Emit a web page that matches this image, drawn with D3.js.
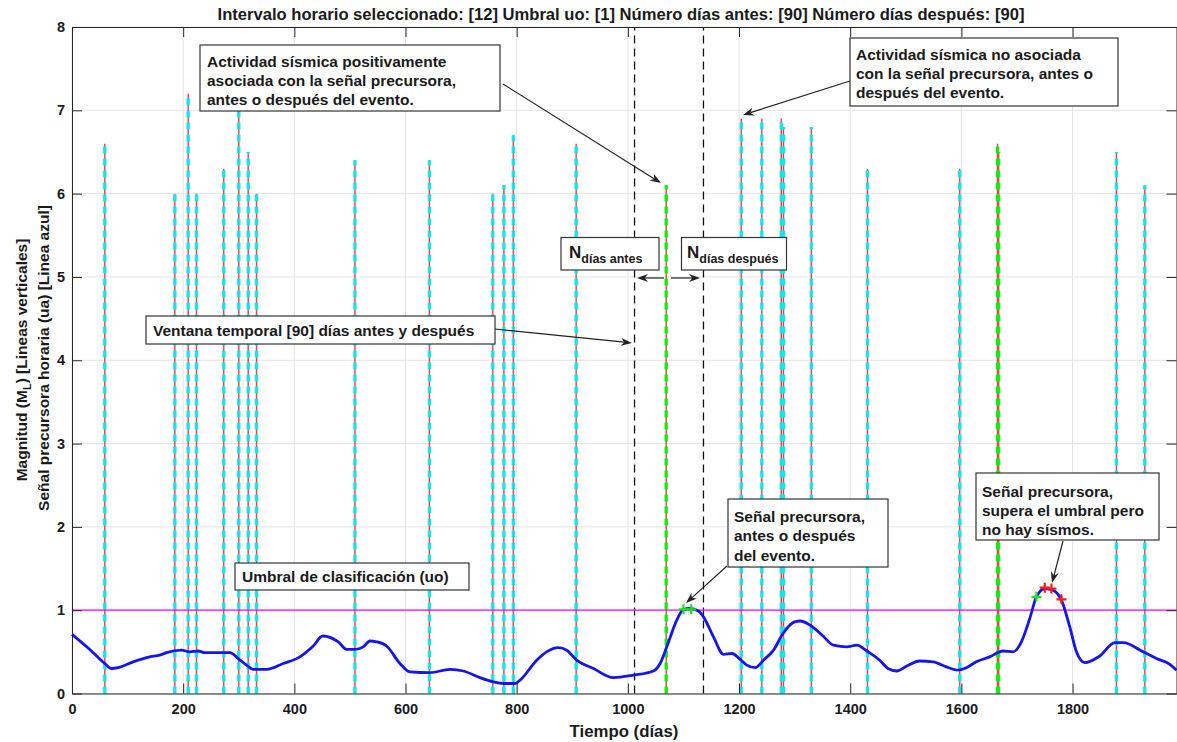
<!DOCTYPE html>
<html>
<head>
<meta charset="utf-8">
<script src="https://cdn.jsdelivr.net/npm/d3@7"></script>
<style>
  html, body { margin: 0; padding: 0; background: #fff; }
  svg { display: block; }
  text { font-family: "Liberation Sans", Arial, Helvetica, sans-serif; font-weight: bold; fill: #1a1a1a; }
</style>
</head>
<body>
<svg id="chart" width="1177" height="742"></svg>
<script>
// ---------------- DATA ----------------
const titleText = "Intervalo horario seleccionado: [12] Umbral uo: [1] Número días antes: [90] Número días después: [90]";
const xTicks = [0, 200, 400, 600, 800, 1000, 1200, 1400, 1600, 1800];
const yTicks = [0, 1, 2, 3, 4, 5, 6, 7, 8];
const xMax = 1987;

// Seismic events (vertical lines): day, magnitude, associated with precursor (1) or not (0)
const eventDays  = [59, 185, 209, 224, 273, 300, 317, 332, 509, 643, 757, 777, 794, 907, 1069, 1204, 1241, 1276, 1280, 1330, 1431, 1597, 1665, 1667, 1879, 1930];
const eventMags  = [6.6, 6.0, 7.2, 6.0, 6.3, 7.0, 6.5, 6.0, 6.4, 6.4, 6.0, 6.1, 6.7, 6.6, 6.1, 6.9, 6.9, 6.9, 6.8, 6.8, 6.3, 6.3, 6.6, 6.5, 6.5, 6.1];
const eventAssoc = [0, 0, 0, 0, 0, 0, 0, 0, 0, 0, 0, 0, 0, 0, 1, 0, 0, 0, 0, 0, 0, 0, 1, 1, 0, 0];

// Hourly precursor signal (blue line)
const signalDays = [0,30,59,71,83,110,140,158,170,197,212,227,239,284,299,314,326,350,380,410,434,451,479,494,509,524,536,548,566,590,608,644,680,704,734,758,776,797,806,836,854,875,890,908,938,974,1010,1046,1058,1070,1088,1100,1112,1127,1136,1154,1172,1187,1202,1214,1229,1244,1262,1279,1300,1310,1328,1351,1370,1394,1412,1430,1453,1468,1484,1502,1525,1549,1573,1594,1609,1627,1651,1675,1693,1708,1723,1735,1750,1765,1780,1795,1807,1822,1849,1876,1891,1927,1951,1975,1987];
const signalValues = [0.71,0.54,0.36,0.30,0.31,0.38,0.44,0.46,0.49,0.52,0.50,0.51,0.49,0.49,0.42,0.34,0.29,0.29,0.36,0.44,0.57,0.69,0.62,0.53,0.53,0.56,0.63,0.62,0.57,0.36,0.26,0.25,0.29,0.27,0.19,0.14,0.12,0.12,0.16,0.40,0.50,0.55,0.52,0.40,0.30,0.19,0.22,0.27,0.36,0.56,0.88,1.01,1.02,0.99,0.92,0.68,0.47,0.48,0.41,0.34,0.31,0.40,0.52,0.72,0.86,0.87,0.82,0.69,0.58,0.56,0.58,0.51,0.40,0.30,0.27,0.33,0.39,0.38,0.32,0.28,0.31,0.38,0.44,0.51,0.50,0.62,0.90,1.16,1.26,1.24,1.12,0.80,0.50,0.37,0.45,0.61,0.61,0.50,0.42,0.35,0.28];

// Threshold and window
const threshold = 1;
const windowDays = [1012, 1136];

// Markers over threshold
const greenMarkDays = [1100, 1114, 1735];
const greenMarkVals = [1.01, 1.01, 1.16];
const redMarkDays = [1750, 1762, 1780];
const redMarkVals = [1.27, 1.26, 1.13];

// ---------------- CHART ----------------
const svg = d3.select("#chart");
const L = 72, R = 1176.5, T = 27, B = 693.5;
const x = d3.scaleLinear().domain([0, xMax]).range([L, R]);
const y = d3.scaleLinear().domain([0, 8]).range([B, T]);
const FS = 15.5;

svg.append("rect").attr("width", 1177).attr("height", 742).attr("fill", "#fff");

// grid
const grid = svg.append("g").attr("stroke", "#e4e4e4").attr("stroke-width", 1);
xTicks.forEach(t => grid.append("line").attr("x1", x(t)).attr("x2", x(t)).attr("y1", T).attr("y2", B));
yTicks.forEach(t => grid.append("line").attr("x1", L).attr("x2", R).attr("y1", y(t)).attr("y2", y(t)));

// event lines
const ev = svg.append("g");
eventDays.forEach((d, i) => {
  ev.append("line").attr("x1", x(d)).attr("x2", x(d)).attr("y1", y(0)).attr("y2", y(eventMags[i]))
    .attr("stroke", "#ff3a3a").attr("stroke-width", 1.4);
});
eventDays.forEach((d, i) => {
  ev.append("line").attr("x1", x(d)).attr("x2", x(d)).attr("y1", y(0)).attr("y2", y(eventMags[i]))
    .attr("stroke", eventAssoc[i] ? "#10f010" : "#12e6ee").attr("stroke-width", 3.4)
    .attr("stroke-dasharray", "7,5");
});

// window dashed lines
windowDays.forEach(d => {
  svg.append("line").attr("x1", x(d)).attr("x2", x(d)).attr("y1", y(0)).attr("y2", y(8))
    .attr("stroke", "#111").attr("stroke-width", 1.3).attr("stroke-dasharray", "8,5");
});

// threshold
svg.append("line").attr("x1", x(0)).attr("x2", x(xMax)).attr("y1", y(threshold)).attr("y2", y(threshold))
  .attr("stroke", "#ff00ff").attr("stroke-width", 1.3);

// signal
const pts = signalDays.map((d, i) => [d, signalValues[i]]);
svg.append("path").datum(pts)
  .attr("d", d3.line().x(p => x(p[0])).y(p => y(p[1])).curve(d3.curveMonotoneX))
  .attr("fill", "none").attr("stroke", "#1414f0").attr("stroke-width", 2.8).attr("stroke-linejoin", "round");

// markers
function plus(g, cx, cy, col) {
  const s = 5;
  g.append("path").attr("d", `M${cx - s},${cy}H${cx + s}M${cx},${cy - s}V${cy + s}`)
    .attr("stroke", col).attr("stroke-width", 2.2).attr("fill", "none");
}
const mk = svg.append("g");
greenMarkDays.forEach((d, i) => plus(mk, x(d), y(greenMarkVals[i]), "#22dd22"));
redMarkDays.forEach((d, i) => plus(mk, x(d), y(redMarkVals[i]), "#ff1a1a"));

// axes
const fmt = d3.format("d");
const axB = svg.append("g").attr("transform", `translate(0,${B})`)
  .call(d3.axisBottom(x).tickValues(xTicks).tickFormat(fmt).tickSize(-10).tickSizeOuter(0).tickPadding(10));
const axT = svg.append("g").attr("transform", `translate(0,${T})`)
  .call(d3.axisTop(x).tickValues(xTicks).tickFormat("").tickSize(-10).tickSizeOuter(0));
const axL = svg.append("g").attr("transform", `translate(${L},0)`)
  .call(d3.axisLeft(y).tickValues(yTicks).tickFormat(fmt).tickSize(-10).tickSizeOuter(0).tickPadding(7));
const axR = svg.append("g").attr("transform", `translate(${R},0)`)
  .call(d3.axisRight(y).tickValues(yTicks).tickFormat("").tickSize(-10).tickSizeOuter(0));
[axB, axT, axL, axR].forEach(a => {
  a.selectAll("path.domain").attr("stroke", "#262626").attr("stroke-width", 1);
  a.selectAll(".tick line").attr("stroke", "#262626").attr("stroke-width", 1);
  a.selectAll("text").attr("font-size", 14.5).attr("font-weight", "bold")
    .attr("font-family", "'Liberation Sans', Arial, sans-serif").attr("fill", "#1a1a1a");
});

// title & labels
svg.append("text").attr("x", 621).attr("y", 20).attr("text-anchor", "middle").attr("font-size", 16.6).text(titleText);
svg.append("text").attr("x", 624).attr("y", 737).attr("text-anchor", "middle").attr("font-size", 16.8).text("Tiempo (días)");

const yl1 = svg.append("text").attr("transform", "translate(27,360) rotate(-90)").attr("text-anchor", "middle").attr("font-size", 15.5);
yl1.append("tspan").text("Magnitud (M");
yl1.append("tspan").attr("dy", 4).attr("font-size", 11).text("L");
yl1.append("tspan").attr("dy", -4).text(") [Lineas verticales]");
svg.append("text").attr("transform", "translate(49,358) rotate(-90)").attr("text-anchor", "middle").attr("font-size", 15.5)
  .text("Señal precursora horaria (ua) [Linea azul]");

// annotations
function box(x0, y0, w, h, lines, tx, baselines) {
  const g = svg.append("g");
  g.append("rect").attr("x", x0).attr("y", y0).attr("width", w).attr("height", h)
    .attr("fill", "#fff").attr("stroke", "#333").attr("stroke-width", 1.2);
  lines.forEach((s, i) => g.append("text").attr("x", tx).attr("y", baselines[i]).attr("font-size", FS).text(s));
  return g;
}
function arrow(x1, y1, x2, y2) {
  const ang = Math.atan2(y2 - y1, x2 - x1);
  const Lh = 11, W = 4;
  const bx = x2 - Lh * Math.cos(ang), by = y2 - Lh * Math.sin(ang);
  const nx = x2 - 0.7 * Lh * Math.cos(ang), ny = y2 - 0.7 * Lh * Math.sin(ang);
  const px = -Math.sin(ang) * W, py = Math.cos(ang) * W;
  svg.append("line").attr("x1", x1).attr("y1", y1).attr("x2", nx).attr("y2", ny).attr("stroke", "#222").attr("stroke-width", 1.2);
  svg.append("path").attr("d", `M${x2},${y2}L${bx + px},${by + py}L${nx},${ny}L${bx - px},${by - py}Z`).attr("fill", "#222");
}

box(200, 45, 300, 66, ["Actividad sísmica positivamente", "asociada con la señal precursora,", "antes o después del evento."], 207, [66.5, 85.5, 104.5]);
arrow(503, 84, 661, 183);

box(850, 38, 268, 68, ["Actividad sísmica no asociada", "con la señal precursora, antes o", "después del evento."], 856, [60, 79, 98]);
arrow(850, 81, 743, 115);

// N boxes
const nb1 = svg.append("g");
nb1.append("rect").attr("x", 561).attr("y", 237.5).attr("width", 98).attr("height", 32.5).attr("fill", "#fff").attr("stroke", "#333").attr("stroke-width", 1.2);
const t1 = nb1.append("text").attr("x", 569).attr("y", 258);
t1.append("tspan").attr("font-size", 17).text("N");
t1.append("tspan").attr("font-size", 12.5).attr("dy", 5).text("días antes");
const nb2 = svg.append("g");
nb2.append("rect").attr("x", 681.5).attr("y", 237.5).attr("width", 105).attr("height", 32.5).attr("fill", "#fff").attr("stroke", "#333").attr("stroke-width", 1.2);
const t2 = nb2.append("text").attr("x", 687).attr("y", 258);
t2.append("tspan").attr("font-size", 17).text("N");
t2.append("tspan").attr("font-size", 12.5).attr("dy", 5).text("días después");
arrow(664, 278, 637, 278);
arrow(671, 278, 700, 278);

box(146, 316, 349, 28, ["Ventana temporal [90] días antes y después"], 153, [335.5]);
arrow(495, 329, 632, 343);

box(728, 499, 160, 68, ["Señal precursora,", "antes o después", "del evento."], 734, [522, 541, 560.5]);
arrow(727, 566, 686, 603);

box(976, 473, 183, 67, ["Señal precursora,", "supera el umbral pero", "no hay sísmos."], 982, [497, 516, 535]);
arrow(1063, 541, 1052, 583);

box(235, 563, 234, 27, ["Umbral de clasificación (uo)"], 242, [582]);
</script>
</body>
</html>
